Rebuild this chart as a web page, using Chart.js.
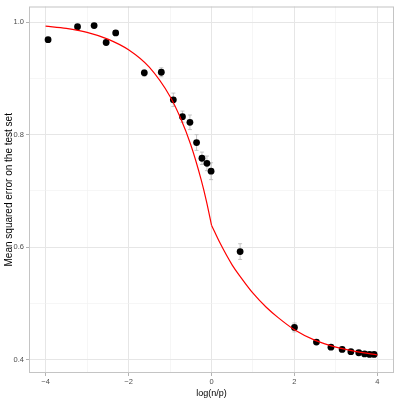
<!DOCTYPE html>
<html>
<head>
<meta charset="utf-8">
<script src="https://cdn.jsdelivr.net/npm/chart.js@4"></script>
<style>
  html, body { margin: 0; padding: 0; background: #ffffff; }
  #wrap { width: 399px; height: 399px; }
</style>
</head>
<body>
<div id="wrap"><canvas id="mseChart"></canvas></div>
<script>
// Observed points: log(n/p), mean squared error, half error bar
const logNP = [-3.94, -3.23, -2.83, -2.54, -2.31, -1.62, -1.21, -0.92, -0.70, -0.52, -0.36, -0.23,
    -0.11, -0.01, 0.69, 2.00, 2.53, 2.88, 3.15, 3.36, 3.55, 3.69, 3.81, 3.92];
const mse = [0.969, 0.992, 0.994, 0.964, 0.981, 0.910, 0.911, 0.862, 0.832, 0.822, 0.786, 0.758,
    0.749, 0.735, 0.592, 0.457, 0.431, 0.422, 0.418, 0.414, 0.412, 0.410, 0.409, 0.409];
const mseErr = [0.003, 0.003, 0.003, 0.003, 0.003, 0.006, 0.008, 0.012, 0.010, 0.013, 0.014, 0.011,
    0.013, 0.015, 0.014, 0.008, 0.004, 0.003, 0.003, 0.003, 0.003, 0.002, 0.002, 0.002];

// Theoretical curve (red), with a kink at log(n/p) = 0
const curveX = [-4.0, -3.5, -3.0, -2.5, -2.0, -1.5, -1.0, -0.75, -0.5, -0.25, -0.12, 0.0,
    0.2, 0.5, 0.69, 1.0, 1.32, 1.6, 2.0, 2.5, 3.0, 3.5, 4.0];
const curveY = [0.993, 0.989, 0.982, 0.970, 0.951, 0.920, 0.868, 0.830, 0.782, 0.720, 0.681, 0.639,
    0.608, 0.568, 0.548, 0.518, 0.493, 0.475, 0.453, 0.434, 0.422, 0.414, 0.408];

// Tick values (major + minor grid)
const xTicks = [-4, -3, -2, -1, 0, 1, 2, 3, 4];
const xLabelled = [-4, -2, 0, 2, 4];
const yTicks = [0.4, 0.5, 0.6, 0.7, 0.8, 0.9, 1.0];
const yLabelled = [0.4, 0.6, 0.8, 1.0];

const isMajor = (list, v) => list.some(t => Math.abs(t - v) < 1e-9);

const curvePts = curveX.map((x, i) => ({ x: x, y: curveY[i] }));
const leftBranch = curvePts.filter(p => p.x <= 0);
const rightBranch = curvePts.filter(p => p.x >= 0);

// error bars under the points, plus grey panel border
const errorBarPlugin = {
    id: 'errorBars',
    beforeDatasetsDraw(chart) {
        const ctx = chart.ctx;
        const xs = chart.scales.x, ys = chart.scales.y;
        ctx.save();
        ctx.strokeStyle = '#b8b8b8';
        ctx.lineWidth = 0.8;
        logNP.forEach((x, i) => {
            const px = xs.getPixelForValue(x);
            const top = ys.getPixelForValue(mse[i] + mseErr[i]);
            const bot = ys.getPixelForValue(mse[i] - mseErr[i]);
            ctx.beginPath();
            ctx.moveTo(px, top); ctx.lineTo(px, bot);
            ctx.moveTo(px - 2, top); ctx.lineTo(px + 2, top);
            ctx.moveTo(px - 2, bot); ctx.lineTo(px + 2, bot);
            ctx.stroke();
        });
        ctx.restore();
    },
    afterDraw(chart) {
        const a = chart.chartArea;
        const ctx = chart.ctx;
        ctx.save();
        ctx.strokeStyle = '#c4c4c4';
        ctx.lineWidth = 1;
        ctx.strokeRect(a.left + 0.5, a.top + 0.5, a.right - a.left - 1, a.bottom - a.top - 1);
        ctx.restore();
    }
};

const lineStyle = {
    showLine: true,
    borderColor: '#ff0000',
    borderWidth: 1.2,
    pointRadius: 0,
    cubicInterpolationMode: 'monotone'
};

const ctx = document.getElementById('mseChart').getContext('2d');
new Chart(ctx, {
    type: 'scatter',
    data: {
        datasets: [
            Object.assign({ data: leftBranch }, lineStyle),
            Object.assign({ data: rightBranch }, lineStyle),
            {
                data: logNP.map((x, i) => ({ x: x, y: mse[i] })),
                backgroundColor: '#000000',
                borderColor: '#000000',
                pointRadius: 3.4,
                borderWidth: 0
            }
        ]
    },
    options: {
        responsive: true,
        maintainAspectRatio: false,
        animation: false,
        layout: { padding: { top: 4, right: 5, left: 0, bottom: 0 } },
        plugins: { legend: { display: false }, tooltip: { enabled: false } },
        scales: {
            x: {
                type: 'linear',
                min: -4.4,
                max: 4.4,
                afterBuildTicks: s => { s.ticks = xTicks.map(v => ({ value: v })); },
                afterFit: s => { s.height = 26; },
                ticks: {
                    callback: v => isMajor(xLabelled, v) ? String(v).replace('-', '\u2212') : '',
                    color: '#4d4d4d',
                    font: { family: 'Liberation Sans', size: 7.5 },
                    padding: 1,
                    maxRotation: 0,
                    autoSkip: false
                },
                grid: {
                    color: c => isMajor(xLabelled, c.tick.value) ? '#e6e6e6' : '#f0f0f0',
                    lineWidth: c => isMajor(xLabelled, c.tick.value) ? 1 : 0.6,
                    tickLength: 3,
                    tickColor: c => isMajor(xLabelled, c.tick.value) ? '#b3b3b3' : 'rgba(0,0,0,0)'
                },
                border: { display: false },
                title: {
                    display: true,
                    text: 'log(n/p)',
                    color: '#000000',
                    font: { family: 'Liberation Sans', size: 9 },
                    padding: { top: 0, bottom: 0 }
                }
            },
            y: {
                type: 'linear',
                min: 0.376,
                max: 1.028,
                afterBuildTicks: s => { s.ticks = yTicks.map(v => ({ value: v })); },
                afterFit: s => { s.width = 29; },
                ticks: {
                    callback: v => isMajor(yLabelled, v) ? v.toFixed(1) : '',
                    color: '#4d4d4d',
                    font: { family: 'Liberation Sans', size: 7.5 },
                    padding: 2,
                    autoSkip: false
                },
                grid: {
                    color: c => isMajor(yLabelled, c.tick.value) ? '#e6e6e6' : '#f0f0f0',
                    lineWidth: c => isMajor(yLabelled, c.tick.value) ? 1 : 0.6,
                    tickLength: 3,
                    tickColor: c => isMajor(yLabelled, c.tick.value) ? '#b3b3b3' : 'rgba(0,0,0,0)'
                },
                border: { display: false },
                title: {
                    display: true,
                    text: 'Mean squared error on the test set',
                    color: '#000000',
                    font: { family: 'Liberation Sans', size: 10 },
                    padding: { top: 3, bottom: 0 }
                }
            }
        }
    },
    plugins: [errorBarPlugin]
});
</script>
</body>
</html>
